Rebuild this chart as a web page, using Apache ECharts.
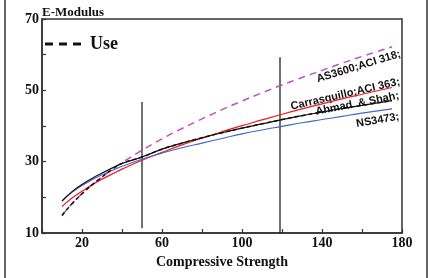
<!DOCTYPE html>
<html>
<head>
<meta charset="utf-8">
<script src="https://cdn.jsdelivr.net/npm/echarts@6/dist/echarts.min.js"></script>
<style>
  html, body { margin: 0; padding: 0; background: #fff; }
  #chart { width: 430px; height: 278px; }
</style>
</head>
<body>
<div id="chart"></div>
<script>
// compressive strength (x) and E-modulus values
const strength = [10, 15, 20, 25, 30, 35, 40, 50, 60, 70, 80, 90, 100, 110, 120, 130, 140, 150, 160, 175]
const as3600 = [14.9, 18.2, 21.0, 23.5, 25.7, 27.8, 29.7, 33.2, 36.4, 39.3, 42.0, 44.6, 47.0, 49.3, 51.5, 53.6, 55.6, 57.6, 59.5, 62.2]
const carrasquillo = [17.4, 19.8, 21.7, 23.5, 25.1, 26.5, 27.9, 30.4, 32.6, 34.7, 36.6, 38.4, 40.1, 41.7, 43.3, 44.8, 46.2, 47.6, 48.9, 50.8]
const ahmadShah = [19.0, 21.6, 23.6, 25.3, 26.8, 28.2, 29.5, 31.3, 33.5, 35.2, 36.7, 38.1, 39.4, 40.6, 41.8, 42.9, 43.9, 44.9, 45.8, 47.1]
const ns3473 = [18.9, 21.4, 23.3, 24.9, 26.3, 27.5, 28.7, 30.7, 32.4, 33.9, 35.2, 36.5, 37.8, 38.9, 39.9, 40.9, 41.8, 42.7, 43.6, 44.8]
const useValues = [14.9, 18.2, 21.0, 23.5, 25.7, 27.8, 29.5, 31.3, 33.5, 35.2, 36.7, 38.1, 39.4, 40.6, 41.8, 42.9, 43.9, 44.9, 45.8, 47.1]
const markerA = [[50, 11.3], [50, 46.7]]
const markerB = [[119, 10], [119, 59.3]]
const xLabels = [20, 60, 100, 140, 180]
const yLabels = [10, 30, 50, 70]

const pairs = (ys) => strength.map((x, i) => [x, ys[i]])
const serif = '"Liberation Serif", "Times New Roman", serif'
const sans = '"Liberation Sans", Arial, sans-serif'

const chart = echarts.init(document.getElementById('chart'))

function curve(name, ys, color, width, type) {
  return {
    name: name,
    type: 'line',
    data: pairs(ys),
    smooth: true,
    symbol: 'none',
    silent: true,
    lineStyle: { color: color, width: width, type: type || 'solid' },
    z: 3
  }
}

function tick(name, pts, color, width) {
  return {
    name: name,
    type: 'line',
    data: pts,
    symbol: 'none',
    silent: true,
    lineStyle: { color: color, width: width },
    z: 2
  }
}

function label(text, x, y, deg) {
  return {
    type: 'text',
    x: x,
    y: y,
    rotation: deg * Math.PI / 180,
    style: {
      text: text,
      font: 'bold 11px ' + sans,
      fill: '#111',
      align: 'right',
      verticalAlign: 'bottom'
    }
  }
}

chart.setOption({
  animation: false,
  grid: {
    left: 42,
    right: 28,
    top: 19,
    bottom: 45,
    show: true,
    borderColor: '#333',
    borderWidth: 1.5
  },
  xAxis: {
    type: 'value',
    min: 0,
    max: 180,
    interval: 20,
    name: 'Compressive Strength',
    nameLocation: 'middle',
    nameGap: 16,
    nameTextStyle: { fontFamily: serif, fontWeight: 'bold', fontSize: 14, color: '#111' },
    axisLine: { lineStyle: { color: '#333', width: 1.5 } },
    axisTick: { inside: true, length: 4, lineStyle: { color: '#333', width: 1.2 } },
    axisLabel: {
      margin: 3,
      fontFamily: serif,
      fontWeight: 'bold',
      fontSize: 14,
      color: '#111',
      formatter: (v) => xLabels.includes(v) ? String(v) : ''
    },
    splitLine: { show: false }
  },
  yAxis: {
    type: 'value',
    min: 10,
    max: 70,
    interval: 10,
    axisLine: { lineStyle: { color: '#333', width: 1.5 } },
    axisTick: { inside: true, length: 4, lineStyle: { color: '#333', width: 1.2 } },
    axisLabel: {
      margin: 3,
      fontFamily: serif,
      fontWeight: 'bold',
      fontSize: 14,
      color: '#111',
      formatter: (v) => yLabels.includes(v) ? String(v) : ''
    },
    splitLine: { show: false }
  },
  series: [
    tick('m50', markerA, '#444', 1.5),
    tick('m119', markerB, '#111', 1.2),
    curve('AS3600;ACI 318;', as3600, '#c04fc0', 1.5, [7, 5]),
    curve('Carrasquillo;ACI 363;', carrasquillo, '#f21b1b', 1.2),
    curve('NS3473;', ns3473, '#4565c4', 1.1),
    curve('Ahmad & Shah;', ahmadShah, '#111', 1.2),
    curve('Use', useValues, '#111', 1.5, [4, 3])
  ],
  graphic: [
    { type: 'line', shape: { x1: 5, y1: 0, x2: 5, y2: 278 }, style: { stroke: '#333', lineWidth: 1.5 } },
    { type: 'line', shape: { x1: 427, y1: 0, x2: 427, y2: 278 }, style: { stroke: '#333', lineWidth: 1.5 } },
    { type: 'text', x: 42, y: 19, style: { text: 'E-Modulus', font: 'bold 13px ' + serif, fill: '#111', verticalAlign: 'bottom' } },
    // legend for the dashed "Use" line
    { type: 'line', shape: { x1: 45, y1: 44, x2: 84, y2: 44 }, style: { stroke: '#111', lineWidth: 3, lineDash: [8, 6] } },
    { type: 'text', x: 90, y: 44, style: { text: 'Use', font: 'bold 18px ' + serif, fill: '#111', verticalAlign: 'middle' } },
    label('AS3600;ACI 318;', 402, 59, 17),
    label('Carrasquillo;ACI 363;', 401, 87, 13),
    label('Ahmad  & Shah;', 400, 101, 11),
    label('NS3473;', 400, 122, 10)
  ]
})
</script>
</body>
</html>
